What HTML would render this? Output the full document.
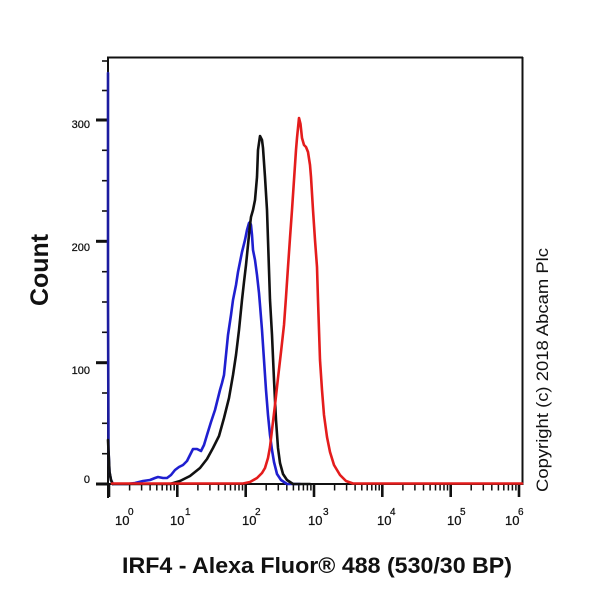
<!DOCTYPE html>
<html>
<head>
<meta charset="utf-8">
<style>
  html, body { margin:0; padding:0; background:#fff; }
  body { width:600px; height:600px; overflow:hidden; }
  svg { display:block; }
  text { font-family: "Liberation Sans", Arial, sans-serif; fill:#111; }
</style>
</head>
<body>
<svg width="600" height="600" viewBox="0 0 600 600" xmlns="http://www.w3.org/2000/svg">
  <rect width="600" height="600" fill="#fff"/>

  <!-- frame -->
  <line x1="107" y1="57.5" x2="523" y2="57.5" stroke="#111" stroke-width="2"/>
  <line x1="522.5" y1="57" x2="522.5" y2="485" stroke="#111" stroke-width="2"/>
  <line x1="108" y1="57" x2="108" y2="498" stroke="#111" stroke-width="2"/>
  <line x1="107" y1="484" x2="523" y2="484" stroke="#111" stroke-width="2"/>

  <!-- y ticks -->
  <g stroke="#111">
    <line x1="96" y1="484" x2="108" y2="484" stroke-width="3"/>
    <line x1="96" y1="362.7" x2="108" y2="362.7" stroke-width="3"/>
    <line x1="96" y1="241.3" x2="108" y2="241.3" stroke-width="3"/>
    <line x1="96" y1="120" x2="108" y2="120" stroke-width="3"/>
    <g stroke-width="1.6">
      <line x1="102" y1="453.7" x2="108" y2="453.7"/>
      <line x1="102" y1="423.3" x2="108" y2="423.3"/>
      <line x1="102" y1="393" x2="108" y2="393"/>
      <line x1="102" y1="332.3" x2="108" y2="332.3"/>
      <line x1="102" y1="302" x2="108" y2="302"/>
      <line x1="102" y1="271.7" x2="108" y2="271.7"/>
      <line x1="102" y1="211" x2="108" y2="211"/>
      <line x1="102" y1="180.7" x2="108" y2="180.7"/>
      <line x1="102" y1="150.3" x2="108" y2="150.3"/>
      <line x1="102" y1="90.5" x2="108" y2="90.5"/>
      <line x1="102" y1="61" x2="108" y2="61"/>
    </g>
  </g>
  <g font-size="11" text-anchor="end" stroke="#111" stroke-width="0.25">
    <text x="90" y="128">300</text>
    <text x="90" y="251">200</text>
    <text x="90" y="374">100</text>
    <text x="90" y="483">0</text>
  </g>

  <!-- x ticks (log) -->
  <g stroke="#111">
    <g stroke-width="2.6">
      <line x1="109" y1="484" x2="109" y2="497"/>
      <line x1="177.3" y1="484" x2="177.3" y2="497"/>
      <line x1="245.7" y1="484" x2="245.7" y2="497"/>
      <line x1="314" y1="484" x2="314" y2="497"/>
      <line x1="382.3" y1="484" x2="382.3" y2="497"/>
      <line x1="450.7" y1="484" x2="450.7" y2="497"/>
      <line x1="519" y1="484" x2="519" y2="497"/>
    </g>
    <path stroke-width="1.5" fill="none" d="
      M129.6 484V490.5 M141.6 484V490.5 M150.1 484V490.5 M156.8 484V490.5 M162.2 484V490.5 M166.8 484V490.5 M170.7 484V490.5 M174.2 484V490.5
      M197.9 484V490.5 M209.9 484V490.5 M218.5 484V490.5 M225.1 484V490.5 M230.5 484V490.5 M235.1 484V490.5 M239.0 484V490.5 M242.5 484V490.5
      M266.2 484V490.5 M278.3 484V490.5 M286.8 484V490.5 M293.4 484V490.5 M298.8 484V490.5 M303.4 484V490.5 M307.4 484V490.5 M310.9 484V490.5
      M334.6 484V490.5 M346.6 484V490.5 M355.1 484V490.5 M361.8 484V490.5 M367.2 484V490.5 M371.8 484V490.5 M375.7 484V490.5 M379.2 484V490.5
      M402.9 484V490.5 M414.9 484V490.5 M423.5 484V490.5 M430.1 484V490.5 M435.5 484V490.5 M440.1 484V490.5 M444.0 484V490.5 M447.5 484V490.5
      M471.2 484V490.5 M483.3 484V490.5 M491.8 484V490.5 M498.4 484V490.5 M503.8 484V490.5 M508.4 484V490.5 M512.4 484V490.5 M515.9 484V490.5"/>
  </g>

  <g font-size="13" stroke="#111" stroke-width="0.25">
    <text x="115" y="525">10</text><text x="128" y="515" font-size="10">0</text>
    <text x="170" y="525">10</text><text x="185" y="515" font-size="10">1</text>
    <text x="242" y="525">10</text><text x="255" y="515" font-size="10">2</text>
    <text x="308" y="525">10</text><text x="323" y="515" font-size="10">3</text>
    <text x="377" y="525">10</text><text x="390" y="515" font-size="10">4</text>
    <text x="447" y="525">10</text><text x="460" y="515" font-size="10">5</text>
    <text x="505" y="525">10</text><text x="518" y="515" font-size="10">6</text>
  </g>

  <!-- axis titles -->
  <text transform="translate(48,270) rotate(-90)" text-anchor="middle" font-size="25" font-weight="bold" textLength="72" lengthAdjust="spacingAndGlyphs">Count</text>
  <text x="122" y="573" font-size="22" font-weight="bold" textLength="390" lengthAdjust="spacingAndGlyphs">IRF4 - Alexa Fluor® 488 (530/30 BP)</text>
  <text transform="translate(548,370) rotate(-90)" text-anchor="middle" font-size="17" textLength="244" lengthAdjust="spacingAndGlyphs">Copyright (c) 2018 Abcam Plc</text>

  <!-- series -->
  <g fill="none" stroke-linejoin="round" stroke-linecap="round" stroke-width="2.6">
    <polyline stroke="#1c1ca0" points="108,73 108,300 108.5,450 109.5,472 111,480 113,484"/>
    <polyline stroke="#111" points="108,440 109.5,472 111,480 112.5,484"/>

    <polyline stroke="#1f1fd0" points="113,484 127,484 135,483 143,481 150,480 155,478 158,477 163,478 167,478 171,475 175,470 179,467 183,465 187,461 190,455 193,449 197,449 201,451 204,445 207,435 211,422 215,410 218,398 220,390 222,383 224,375 226,355 228,335 231,315 233,300 236,285 238,272 240,262 242,252 245,240 247,230 249,223 250,222 251,225 252,235 253,250 255,260 257,275 259,293 260,305 262,330 264,360 266,390 268,415 270,435 272,450 274,462 277,474 281,480 287,484 300,484"/>

    <polyline stroke="#111" points="113,484 170,484 180,481 190,476 200,468 207,459 213,448 219,436 224,418 229,398 233,375 236,355 239,330 242,300 244,282 246,265 248,245 250,225 251,217 253,210 255,200 257,177 258,150 260,136 262,140 263,148 265,177 267,210 268,240 269,270 270,300 272,335 274,380 276,420 278,448 280,463 283,474 287,480 293,484 310,484"/>

    <polyline stroke="#e41c1c" points="112,483.5 243,483.5 250,482 257,478 262,473 265,468 268,458 270,447 272,430 275,405 278,378 281,352 284,325 286,297 288,267 290,238 292,210 294,180 296,150 297,138 299,118 300.5,124 302,138 304,145 306,147 308,152 310,165 311,177 313,210 315,240 317,267 318,300 319,330 320,360 322,390 324,415 327,437 330,452 334,465 340,475 346,481 353,483.5 522,483.5"/>
  </g>
</svg>
</body>
</html>
